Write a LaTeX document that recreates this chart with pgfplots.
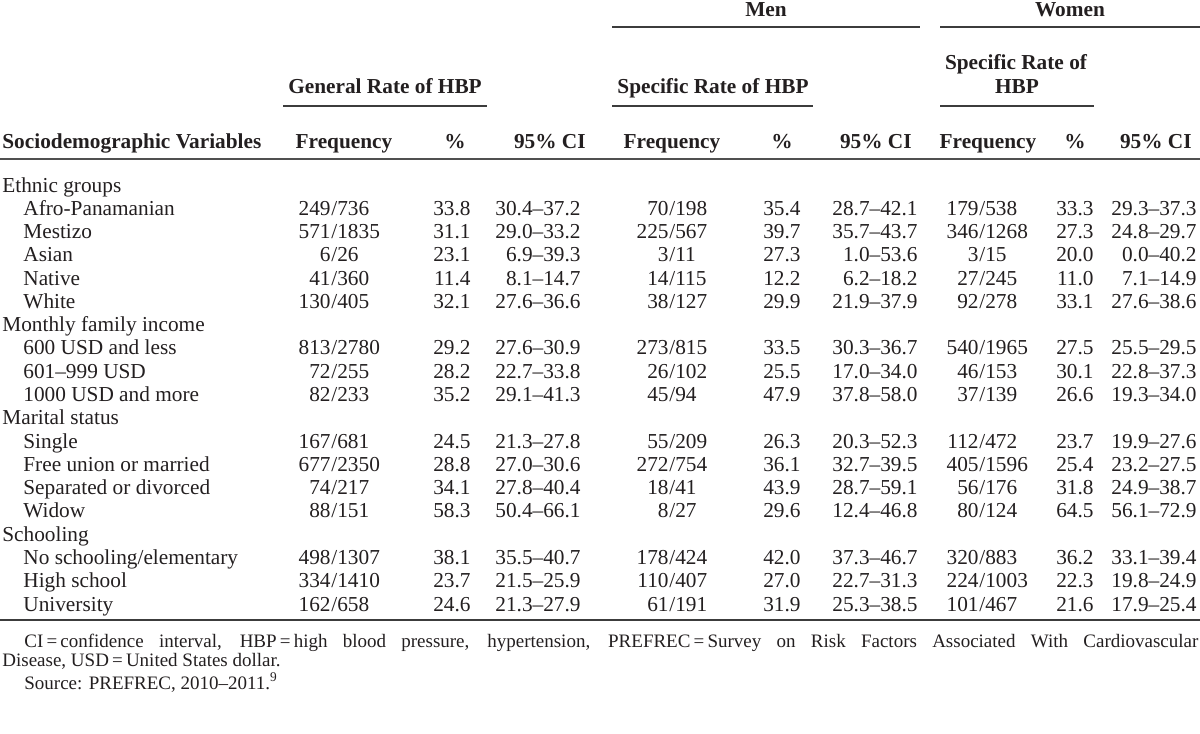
\documentclass[border=0pt]{standalone}
\usepackage{fontspec}
\setmainfont{Liberation Serif}
\usepackage{pgfplots}
\usepackage{pgfplotstable}
\pgfplotsset{compat=1.18}
\definecolor{txt}{HTML}{231F20}
\definecolor{rule}{HTML}{3C3C3C}
\definecolor{rulelight}{HTML}{505050}
\newcommand\bodyfont{\fontsize{10.65bp}{12.8bp}\selectfont}
\newcommand\footfont{\fontsize{9.5bp}{11bp}\selectfont}

\pgfplotstableread[col sep=semicolon]{
r;label
0;Ethnic groups
6;Monthly family income
10;Marital status
15;Schooling
}\groups

\pgfplotstableread[col sep=semicolon]{
r;label;gn;gd;gp;gci;mn;md;mp;mci;wn;wd;wp;wci
1;Afro-Panamanian;249;736;33.8;30.4–37.2;70;198;35.4;28.7–42.1;179;538;33.3;29.3–37.3
2;Mestizo;571;1835;31.1;29.0–33.2;225;567;39.7;35.7–43.7;346;1268;27.3;24.8–29.7
3;Asian;6;26;23.1;6.9–39.3;3;11;27.3;1.0–53.6;3;15;20.0;0.0–40.2
4;Native;41;360;11.4;8.1–14.7;14;115;12.2;6.2–18.2;27;245;11.0;7.1–14.9
5;White;130;405;32.1;27.6–36.6;38;127;29.9;21.9–37.9;92;278;33.1;27.6–38.6
7;600 USD and less;813;2780;29.2;27.6–30.9;273;815;33.5;30.3–36.7;540;1965;27.5;25.5–29.5
8;601–999 USD;72;255;28.2;22.7–33.8;26;102;25.5;17.0–34.0;46;153;30.1;22.8–37.3
9;1000 USD and more;82;233;35.2;29.1–41.3;45;94;47.9;37.8–58.0;37;139;26.6;19.3–34.0
11;Single;167;681;24.5;21.3–27.8;55;209;26.3;20.3–52.3;112;472;23.7;19.9–27.6
12;Free union or married;677;2350;28.8;27.0–30.6;272;754;36.1;32.7–39.5;405;1596;25.4;23.2–27.5
13;Separated or divorced;74;217;34.1;27.8–40.4;18;41;43.9;28.7–59.1;56;176;31.8;24.9–38.7
14;Widow;88;151;58.3;50.4–66.1;8;27;29.6;12.4–46.8;80;124;64.5;56.1–72.9
16;No schooling/elementary;498;1307;38.1;35.5–40.7;178;424;42.0;37.3–46.7;320;883;36.2;33.1–39.4
17;High school;334;1410;23.7;21.5–25.9;110;407;27.0;22.7–31.3;224;1003;22.3;19.8–24.9
18;University;162;658;24.6;21.3–27.9;61;191;31.9;25.3–38.5;101;467;21.6;17.9–25.4
}\items

\pgfplotsset{
  cell/.style={only marks, mark=text, text mark={},
    point meta=explicit symbolic, nodes near coords,
    every node near coord/.style={anchor=#1, inner sep=0pt, font=\bodyfont, text=txt}},
}
\newcommand\rowy{\thisrow{r}*23.28+192}

\begin{document}
\begin{tikzpicture}
\begin{axis}[
  scale only axis, width=600bp, height=367bp,
  xmin=0, xmax=1200, ymin=0, ymax=734, y dir=reverse,
  hide axis, clip=false,
]
% group headers and row labels
\addplot[cell=base west] table[x expr=2, y expr=\rowy, meta=label] {\groups};
\addplot[cell=base west] table[x expr=23, y expr=\rowy, meta=label] {\items};
% general
\addplot[cell=base east] table[x expr=331, y expr=\rowy, meta=gn] {\items};
\addplot[cell=base west, nodes near coords={/\pgfplotspointmeta}] table[x expr=331, y expr=\rowy, meta=gd] {\items};
\addplot[cell=base east] table[x expr=471, y expr=\rowy, meta=gp] {\items};
\addplot[cell=base east] table[x expr=581, y expr=\rowy, meta=gci] {\items};
% men
\addplot[cell=base east] table[x expr=669, y expr=\rowy, meta=mn] {\items};
\addplot[cell=base west, nodes near coords={/\pgfplotspointmeta}] table[x expr=669, y expr=\rowy, meta=md] {\items};
\addplot[cell=base east] table[x expr=801, y expr=\rowy, meta=mp] {\items};
\addplot[cell=base east] table[x expr=918, y expr=\rowy, meta=mci] {\items};
% women
\addplot[cell=base east] table[x expr=979, y expr=\rowy, meta=wn] {\items};
\addplot[cell=base west, nodes near coords={/\pgfplotspointmeta}] table[x expr=979, y expr=\rowy, meta=wd] {\items};
\addplot[cell=base east] table[x expr=1094, y expr=\rowy, meta=wp] {\items};
\addplot[cell=base east] table[x expr=1197, y expr=\rowy, meta=wci] {\items};

% header text
\begin{scope}[every node/.style={inner sep=0pt, font=\bodyfont\bfseries, text=txt}]
\node[anchor=base] at (axis cs:766,17) {Men};
\node[anchor=base] at (axis cs:1070,17) {Women};
\node[anchor=base] at (axis cs:1016,69) {Specific Rate of};
\node[anchor=base] at (axis cs:385,93) {General Rate of HBP};
\node[anchor=base] at (axis cs:713,93) {Specific Rate of HBP};
\node[anchor=base] at (axis cs:1017,93) {HBP};
\node[anchor=base west] at (axis cs:2,148) {Sociodemographic Variables};
\node[anchor=base] at (axis cs:344,148) {Frequency};
\node[anchor=base] at (axis cs:455,148) {\%};
\node[anchor=base east] at (axis cs:586,148) {95\% CI};
\node[anchor=base] at (axis cs:672,148) {Frequency};
\node[anchor=base] at (axis cs:782,148) {\%};
\node[anchor=base east] at (axis cs:912,148) {95\% CI};
\node[anchor=base] at (axis cs:988,148) {Frequency};
\node[anchor=base] at (axis cs:1075,148) {\%};
\node[anchor=base east] at (axis cs:1192,148) {95\% CI};
\end{scope}

% rules
\draw[rule, line width=0.8bp] (axis cs:612,27) -- (axis cs:920,27);
\draw[rule, line width=0.8bp] (axis cs:940,27) -- (axis cs:1200,27);
\draw[rule, line width=0.8bp] (axis cs:283,106) -- (axis cs:487,106);
\draw[rule, line width=0.8bp] (axis cs:612,106) -- (axis cs:813,106);
\draw[rule, line width=0.8bp] (axis cs:940,106) -- (axis cs:1094,106);
\draw[rulelight, line width=1.3bp] (axis cs:0,159) -- (axis cs:1200,159);
\draw[rule, line width=0.9bp] (axis cs:0,620) -- (axis cs:1200,620);

% footnotes
\begin{scope}[every node/.style={inner sep=0pt, font=\footfont, text=txt}]
\node[anchor=base west] at (axis cs:24,647) {\makebox[587bp][s]{CI\,=\,confidence interval, HBP\,=\,high blood pressure, hypertension, PREFREC\,=\,Survey on Risk Factors Associated With Cardiovascular}};
\node[anchor=base west] at (axis cs:2,666) {Disease, USD\,=\,United States dollar.};
\node[anchor=base west] at (axis cs:24,689) {Source: PREFREC, 2010–2011.\textsuperscript{9}};
\end{scope}
\end{axis}
\pgfresetboundingbox
\path[use as bounding box] (current axis.south west) rectangle (current axis.north east);
\end{tikzpicture}
\end{document}
